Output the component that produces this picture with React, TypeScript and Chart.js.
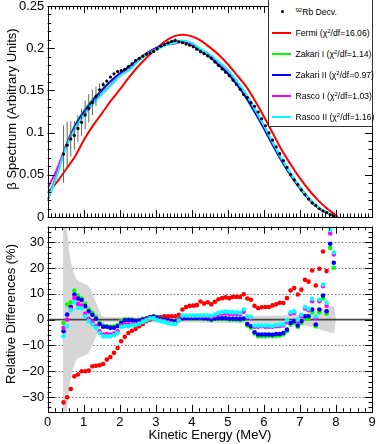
import React, { useEffect, useRef } from 'react';
import { Chart, registerables } from 'chart.js';
Chart.register(...registerables);

const FONT = "'Liberation Sans', Arial, Helvetica, sans-serif";

// ---- measured data (energy bins, MeV) ----
const ENERGY = [0.44,0.54,0.64,0.74,0.84,0.94,1.04,1.14,1.24,1.34,1.44,1.54,1.64,1.74,1.84,1.94,2.04,2.14,2.24,2.34,2.44,2.54,2.64,2.74,2.84,2.94,3.04,3.14,3.24,3.34,3.44,3.54,3.64,3.74,3.84,3.94,4.04,4.14,4.24,4.34,4.44,4.54,4.64,4.74,4.84,4.94,5.04,5.14,5.24,5.34,5.44,5.54,5.64,5.74,5.84,5.94,6.04,6.14,6.24,6.34,6.44,6.54,6.64,6.74,6.84,6.94,7.04,7.14,7.24,7.34,7.44,7.54,7.64,7.74,7.84,7.94];

const SPECTRUM = [0.0745,0.085,0.0925,0.0966,0.1049,0.1122,0.1209,0.1287,0.1358,0.1429,0.1507,0.157,0.1611,0.1659,0.1696,0.1723,0.1736,0.175,0.1782,0.1814,0.1852,0.188,0.1905,0.1929,0.1944,0.1962,0.1991,0.2023,0.2043,0.2062,0.208,0.2092,0.2075,0.2065,0.2051,0.2036,0.2017,0.1989,0.1959,0.1935,0.1909,0.1882,0.1837,0.1795,0.1755,0.1715,0.1674,0.1622,0.157,0.1513,0.145,0.1415,0.1355,0.1311,0.1244,0.1163,0.1081,0.0996,0.0911,0.083,0.075,0.0668,0.0588,0.0504,0.0439,0.0385,0.0321,0.0264,0.0212,0.0167,0.0137,0.0098,0.0071,0.0052,0.0026,0.001];

const SPECTRUM_ERR = [0.034,0.028,0.021,0.017,0.016,0.016,0.017,0.017,0.015,0.0115,0.0075,0.003,0.0015,0.0014,0.0014,0.0014,0.0014,0.0014,0.0014,0.0014,0.0014,0.0014,0.0014,0.0014,0.0014,0.0014,0.0014,0.0014,0.0014,0.0014,0.0014,0.0014,0.0014,0.0014,0.0014,0.0014,0.0014,0.0014,0.0014,0.0014,0.0014,0.0014,0.0014,0.0014,0.0014,0.0014,0.0014,0.0014,0.0014,0.0014,0.0014,0.0014,0.0014,0.0014,0.0014,0.0014,0.0014,0.0014,0.0014,0.0012,0.0012,0.0012,0.0012,0.0012,0.0012,0.0012,0.001,0.001,0.001,0.001,0.001,0.001,0.001,0.001,0.001,0.001];

// ---- fitted spectra ----
const CURVE_E = [0,0.25,0.5,0.75,1,1.25,1.5,1.75,2,2.25,2.5,2.75,3,3.25,3.5,3.75,4,4.25,4.5,4.75,5,5.25,5.5,5.75,6,6.25,6.5,6.75,7,7.25,7.5,7.75,8,8.05];
const FERMI = [0.029,0.041,0.056,0.071,0.091,0.108,0.1225,0.1375,0.151,0.165,0.178,0.189,0.199,0.208,0.214,0.2158,0.214,0.209,0.201,0.192,0.181,0.168,0.155,0.138,0.119,0.099,0.079,0.062,0.046,0.032,0.020,0.010,0.002,0];
const ZAKARI_I = [0.021,0.050,0.084,0.1085,0.1255,0.1392,0.1508,0.1607,0.1697,0.1778,0.1859,0.1938,0.1998,0.2043,0.2078,0.2075,0.2035,0.1966,0.1895,0.1795,0.1696,0.1567,0.1417,0.1237,0.1047,0.0848,0.0658,0.0489,0.0339,0.0209,0.0109,0.0049,0,null];
const ZAKARI_II = [0.020,0.050,0.083,0.107,0.124,0.138,0.150,0.161,0.170,0.178,0.186,0.194,0.200,0.2045,0.208,0.2078,0.204,0.197,0.190,0.180,0.170,0.157,0.142,0.124,0.105,0.085,0.066,0.049,0.034,0.021,0.011,0.005,0,null];
const RASCO_I = [0.034,0.056,0.083,0.1048,0.1211,0.1344,0.1462,0.1565,0.1678,0.1748,0.1847,0.1935,0.1990,0.2041,0.2052,0.2082,0.2050,0.1978,0.1915,0.1828,0.1735,0.1603,0.1453,0.1272,0.1080,0.0876,0.0681,0.0508,0.0353,0.0219,0.0115,0.0051,0,null];
const RASCO_II = [0.020,0.049,0.081,0.1038,0.1203,0.1337,0.1454,0.1557,0.1671,0.1739,0.1838,0.1926,0.198,0.2031,0.2062,0.2092,0.2062,0.199,0.1925,0.1838,0.1744,0.161,0.146,0.1278,0.1086,0.088,0.0685,0.051,0.0355,0.022,0.0116,0.0052,0,null];

// ---- relative differences (%) ----
const RES_FERMI = [-32.1,-30.1,-26.9,-22.0,-21.3,-20.0,-20.0,-19.8,-18.1,-17.9,-17.7,-17.2,-15.5,-14.5,-12.9,-11.0,-8.4,-6.7,-5.2,-4.3,-3.6,-2.6,-1.7,-0.6,0.0,0.6,0.6,1.0,1.3,1.3,1.3,1.3,1.9,3.9,4.9,5.3,5.4,5.6,7.0,6.2,6.7,5.9,6.9,7.9,8.3,8.6,8.3,8.8,8.8,8.8,9.8,8.2,7.7,5.3,4.4,4.8,4.9,4.9,5.5,5.9,6.5,6.4,8.3,11.3,12.2,9.7,11.6,15.4,14.7,19.0,13.2,19.7,26.4,18.8];
const RES_ZAKARI_I = [-1.3,5.8,6.7,11.3,9.3,8.2,6.1,3.9,2.6,1.0,-1.3,-2.3,-2.6,-2.8,-2.6,-2.1,-0.6,0,0,-0.1,-0.4,-0.3,0.3,0.5,1.0,1.3,0.9,0.3,0,-0.3,-0.6,-0.8,0,0.6,0.6,0.5,0.4,0.4,0.5,0.3,0.2,-0.2,0.2,0.2,0.2,0.2,0,0,0,-0.3,0.1,-2.3,-3.2,-5.4,-6.5,-6.5,-6.5,-6.3,-6.5,-6.3,-6.2,-5.8,-4.5,-1.9,-1.3,-2.8,-1.3,0.6,0.3,2.8,-2.6,2.8,8.2,2.3,27.8,20.1];
const RES_ZAKARI_II = [-4.5,2.0,4.9,9.7,8.2,7.6,5.2,3.2,1.9,0.3,-1.7,-2.8,-2.8,-3.2,-3.2,-2.6,-1.3,-0.3,-0.3,-0.3,-0.6,-0.4,0,0.4,0.9,1.2,0.8,0.1,0,-0.3,-0.6,-0.8,0,0.5,0.6,0.6,0.6,0.6,0.7,0.5,0.4,0.1,0.4,0.5,0.5,0.5,0.3,0.3,0.3,0.2,0.4,-1.7,-2.6,-4.9,-5.8,-5.8,-5.8,-5.8,-5.9,-5.6,-5.6,-5.2,-3.9,-1.3,-0.6,-2.3,-0.6,1.3,1.3,3.9,-1.9,3.9,9.3,3.2,29.4,22.0];
const RES_RASCO_I = [-3.2,0.0,4.2,8.4,6.1,5.4,2.2,0.3,-1.0,-2.6,-4.5,-5.8,-5.6,-5.8,-5.4,-4.5,-2.3,-1.9,-1.9,-1.9,-1.7,-1.3,-0.6,0,0.5,0.6,0,-0.4,-0.6,-1.0,-1.3,-1.6,-0.3,1.3,1.4,1.3,1.3,1.3,1.3,1.3,1.3,1.0,1.5,2.0,2.3,2.4,2.2,2.2,2.2,2.0,3.0,1.0,0.6,-2.8,-2.8,-2.6,-2.8,-2.8,-2.8,-2.6,-2.5,-2.3,-1.0,2.3,2.6,-0.6,1.3,4.3,3.6,7.1,0.6,7.1,12.9,5.4,33.4,25.2];
const RES_RASCO_II = [-6.5,-2.6,3.6,6.7,4.5,4.4,1.3,-0.6,-1.9,-3.2,-5.2,-6.5,-6.5,-6.5,-6.0,-5.2,-2.8,-2.6,-2.6,-2.3,-2.1,-1.6,-0.9,-0.3,0.4,0.5,-0.3,-0.6,-0.9,-1.3,-1.6,-1.7,-0.4,1.6,1.6,1.6,1.6,1.6,1.6,1.7,1.7,1.5,2.0,2.6,2.9,3.1,2.9,2.8,2.8,2.6,3.9,1.3,1.0,-2.3,-2.3,-2.3,-2.3,-2.3,-2.5,-2.1,-2.0,-1.9,-0.3,2.8,3.2,0,1.9,4.9,4.1,8.0,1.3,7.8,13.6,6.5,34.7,26.0];

// ---- data uncertainty band (half width, %) ----
const BAND_E = [0.42,0.46,0.5,0.55,0.6,0.65,0.7,0.8,0.9,1.0,1.1,1.2,1.3,1.4,1.5,1.6,2.0,2.5,3.0,3.5,4.0,4.5,5.0,5.5,6.0,6.5,6.9,7.2,7.4,7.6,7.8,7.95,8.0];
const BAND_HALF = [48,44,38,33,26,22,19,15.5,14.5,14,13.5,11.5,8,4.5,1.5,0.9,0.9,1.0,1.0,1.0,1.1,1.2,1.3,1.4,1.5,1.6,1.8,2.5,3.2,4.0,4.8,5.3,0];

// ---- axes ----
const X_TICKS = [0,1,2,3,4,5,6,7,8,9];
const TOP_Y_TICKS = [0,0.05,0.1,0.15,0.2,0.25];
const TOP_Y_LABELS = ['0','0.05','0.1','0.15','0.2','0.25'];
const BOT_Y_TICKS = [-30,-20,-10,0,10,20,30];
const BOT_Y_LABELS = ['\u221230','\u221220','\u221210','0','10','20','30'];
const BOT_GRID = [-30,-20,-10,10,20,30];

const MODEL_NAMES = ['Fermi','Zakari I','Zakari II','Rasco I','Rasco II'];
const MODEL_CHI2 = ['16.06','1.14','0.97','1.03','1.16'];
const MODEL_COLORS = ['#ff0000','#00ff00','#0000ff','#ff00ff','#00ffff'];
const MODEL_CURVES = [FERMI, ZAKARI_I, ZAKARI_II, RASCO_I, RASCO_II];
const MODEL_RES = [RES_FERMI, RES_ZAKARI_I, RES_ZAKARI_II, RES_RASCO_I, RES_RASCO_II];

function range(min: number, max: number, step: number) {
  const out: number[] = [];
  const n = Math.round((max - min) / step);
  for (let i = 0; i <= n; i++) out.push(min + i * step);
  return out;
}

const framePlugin = {
  id: 'rootFrame',
  beforeDatasetsDraw(chart: any, _a: any, opts: any) {
    if (!opts.grid) return;
    const { ctx, chartArea: ca, scales } = chart;
    ctx.save();
    ctx.strokeStyle = '#666';
    ctx.lineWidth = 1;
    ctx.setLineDash([1.5, 2]);
    opts.grid.forEach((v: number) => {
      const y = Math.round(scales.y.getPixelForValue(v)) + 0.5;
      ctx.beginPath();
      ctx.moveTo(ca.left, y);
      ctx.lineTo(ca.right, y);
      ctx.stroke();
    });
    ctx.restore();
  },
  beforeDatasetDraw(chart: any, args: any, opts: any) {
    if (opts.errIndex !== args.index) return;
    const { ctx, scales } = chart;
    ctx.save();
    ctx.strokeStyle = '#555';
    ctx.lineWidth = 0.9;
    ENERGY.forEach((e, i) => {
      const x = scales.x.getPixelForValue(e);
      const y1 = scales.y.getPixelForValue(SPECTRUM[i] - SPECTRUM_ERR[i]);
      const y2 = scales.y.getPixelForValue(SPECTRUM[i] + SPECTRUM_ERR[i]);
      ctx.beginPath();
      ctx.moveTo(x, y1);
      ctx.lineTo(x, y2);
      ctx.stroke();
    });
    ctx.restore();
  },
  afterDatasetDraw(chart: any, args: any, opts: any) {
    if (opts.zeroAfter !== args.index) return;
    const { ctx, chartArea: ca, scales } = chart;
    const y = scales.y.getPixelForValue(0);
    ctx.save();
    ctx.strokeStyle = '#444';
    ctx.lineWidth = 1.6;
    ctx.beginPath();
    ctx.moveTo(ca.left, y);
    ctx.lineTo(ca.right, y);
    ctx.stroke();
    ctx.restore();
  },
  afterDraw(chart: any, _a: any, opts: any) {
    const { ctx, chartArea: ca, scales } = chart;
    const sx = scales.x, sy = scales.y;
    ctx.save();
    ctx.strokeStyle = '#000';
    ctx.lineWidth = 1;
    ctx.strokeRect(Math.round(ca.left) + 0.5, Math.round(ca.top) + 0.5, Math.round(ca.right - ca.left), Math.round(ca.bottom - ca.top));
    const MAJ = 7, MIN = 3.5;
    const xt = (v: number, len: number) => {
      const x = Math.round(sx.getPixelForValue(v)) + 0.5;
      ctx.beginPath();
      ctx.moveTo(x, ca.bottom); ctx.lineTo(x, ca.bottom - len);
      ctx.moveTo(x, ca.top); ctx.lineTo(x, ca.top + len);
      ctx.stroke();
    };
    const yt = (v: number, len: number) => {
      const y = Math.round(sy.getPixelForValue(v)) + 0.5;
      ctx.beginPath();
      ctx.moveTo(ca.left, y); ctx.lineTo(ca.left + len, y);
      ctx.moveTo(ca.right, y); ctx.lineTo(ca.right - len, y);
      ctx.stroke();
    };
    range(0, 9, opts.xMinor).forEach((v) => xt(v, MIN));
    range(0, 9, 1).forEach((v) => xt(v, MAJ));
    range(opts.yMinorFrom, opts.yMinorTo, opts.yMinor).forEach((v) => yt(v, MIN));
    range(opts.yMajorFrom, opts.yMajorTo, opts.yMajor).forEach((v) => yt(v, MAJ));
    ctx.restore();
  },
};

const W = 377, H = 444;
const TOP_BOTTOM = 217;      // px of y=0 in top panel
const BOT_TOP = 226.7;       // top of residual panel
const BOT_BOTTOM = 411.7;    // bottom of residual panel
const LEFT = 47.7;
const RIGHT_PAD = 5;

function tickFont() {
  return { family: FONT, size: 13 };
}

export default function App() {
  const topRef = useRef<HTMLCanvasElement>(null);
  const botRef = useRef<HTMLCanvasElement>(null);

  useEffect(() => {
    const curveSets = MODEL_CURVES.map((vals, m) => ({
      label: MODEL_NAMES[m],
      data: CURVE_E.map((e, i) => ({ x: e, y: vals[i] })),
      borderColor: MODEL_COLORS[m],
      borderWidth: 2,
      pointRadius: 0,
      showLine: true,
      fill: false,
      cubicInterpolationMode: 'monotone',
      spanGaps: false,
      order: 5 - m,
    }));
    const top = new Chart(topRef.current!, {
      type: 'line',
      data: {
        datasets: [
          {
            label: 'data',
            data: ENERGY.map((e, i) => ({ x: e, y: SPECTRUM[i] })),
            showLine: false,
            pointRadius: 1.6,
            pointBackgroundColor: '#000',
            pointBorderWidth: 0,
            borderColor: '#000',
            order: 0,
          },
          ...curveSets,
        ] as any,
      },
      options: {
        animation: false,
        responsive: false,
        devicePixelRatio: 1,
        events: [],
        layout: { padding: { left: 0, right: RIGHT_PAD, top: 6, bottom: H - TOP_BOTTOM } },
        plugins: {
          legend: { display: false },
          tooltip: { enabled: false },
          rootFrame: { errIndex: 0, xMinor: 0.1, yMinor: 0.01, yMinorFrom: 0, yMinorTo: 0.25, yMajor: 0.05, yMajorFrom: 0, yMajorTo: 0.25 },
        } as any,
        scales: {
          x: { type: 'linear', min: 0, max: 9, display: false },
          y: {
            type: 'linear', min: 0, max: 0.25,
            afterFit: (s: any) => { s.width = LEFT; s.paddingTop = 0; s.paddingBottom = 0; },
            afterBuildTicks: (s: any) => { s.ticks = TOP_Y_TICKS.map((v) => ({ value: v })); },
            ticks: { callback: (_v: any, i: number) => TOP_Y_LABELS[i], font: tickFont(), color: '#000', padding: 3.5 },
            grid: { display: false, drawTicks: false },
            border: { display: false },
          },
        },
      } as any,
      plugins: [framePlugin],
    });

    const resSets = MODEL_RES.map((vals, m) => ({
      label: MODEL_NAMES[m],
      data: vals.map((v, i) => ({ x: ENERGY[i], y: v })),
      showLine: false,
      pointRadius: 2.3,
      pointBackgroundColor: MODEL_COLORS[m],
      pointBorderWidth: 0,
      borderColor: MODEL_COLORS[m],
      order: 5 - m,
    }));
    const bot = new Chart(botRef.current!, {
      type: 'line',
      data: {
        datasets: [
          {
            label: 'band+',
            data: BAND_E.map((e, i) => ({ x: e, y: BAND_HALF[i] })),
            borderColor: 'transparent', borderWidth: 0, pointRadius: 0, showLine: true, fill: false, order: 11,
          },
          {
            label: 'band-',
            data: BAND_E.map((e, i) => ({ x: e, y: -BAND_HALF[i] })),
            borderColor: 'transparent', borderWidth: 0, pointRadius: 0, showLine: true,
            fill: '-1', backgroundColor: '#d6d6d6', order: 10,
          },
          ...resSets,
        ] as any,
      },
      options: {
        animation: false,
        responsive: false,
        devicePixelRatio: 1,
        events: [],
        layout: { padding: { left: 0, right: RIGHT_PAD, top: BOT_TOP, bottom: 0 } },
        plugins: {
          legend: { display: false },
          tooltip: { enabled: false },
          filler: { propagate: false },
          rootFrame: { grid: BOT_GRID, zeroAfter: 1, xMinor: 0.2, yMinor: 2, yMinorFrom: -34, yMinorTo: 36, yMajor: 10, yMajorFrom: -30, yMajorTo: 30 },
        } as any,
        scales: {
          x: {
            type: 'linear', min: 0, max: 9,
            afterFit: (s: any) => { s.height = H - BOT_BOTTOM; s.paddingLeft = 0; s.paddingRight = 0; },
            afterBuildTicks: (s: any) => { s.ticks = X_TICKS.map((v) => ({ value: v })); },
            ticks: { font: tickFont(), color: '#000', padding: 3, maxRotation: 0, autoSkip: false },
            grid: { display: false, drawTicks: false },
            border: { display: false },
          },
          y: {
            type: 'linear', min: -35.7, max: 36,
            afterFit: (s: any) => { s.width = LEFT; s.paddingTop = 0; s.paddingBottom = 0; },
            afterBuildTicks: (s: any) => { s.ticks = BOT_Y_TICKS.map((v) => ({ value: v })); },
            ticks: { callback: (_v: any, i: number) => BOT_Y_LABELS[i], font: tickFont(), color: '#000', padding: 3.5 },
            grid: { display: false, drawTicks: false },
            border: { display: false },
          },
        },
      } as any,
      plugins: [framePlugin],
    });
    return () => { top.destroy(); bot.destroy(); };
  }, []);

  const rot = (cx: number, cy: number): React.CSSProperties => ({
    position: 'absolute', left: cx, top: cy, transform: 'translate(-50%,-50%) rotate(-90deg)',
    whiteSpace: 'nowrap', font: `13px ${FONT}`, lineHeight: '1', color: '#000',
  });
  const rowY = [10.7, 31.7, 52.5, 73.5, 94.5, 115.7];
  const legText: React.CSSProperties = { position: 'absolute', left: 27, font: `8.6px ${FONT}`, lineHeight: '1', whiteSpace: 'nowrap', color: '#000', transform: 'translateY(-50%)' };
  const sup: React.CSSProperties = { fontSize: '6px', verticalAlign: '3px', lineHeight: '0' };

  return (
    <div style={{ position: 'fixed', left: 0, top: 0, width: W, height: H, background: '#fff', overflow: 'hidden' }}>
      <canvas ref={topRef} width={W} height={H} style={{ position: 'absolute', left: 0, top: 0 }} />
      <canvas ref={botRef} width={W} height={H} style={{ position: 'absolute', left: 0, top: 0 }} />
      <div style={rot(10.5, 108.5)}>β Spectrum (Arbitrary Units)</div>
      <div style={rot(10, 314)}>Relative Differences (%)</div>
      <div style={{ position: 'absolute', left: 210, top: 433.5, transform: 'translate(-50%,-50%)', whiteSpace: 'nowrap', font: `13px ${FONT}`, lineHeight: '1' }}>Kinetic Energy (MeV)</div>
      <div style={{ position: 'absolute', left: 267.5, top: -1, width: 105, height: 127.5, border: '1px solid #333', background: '#fff', boxSizing: 'border-box' }}>
        <div style={{ position: 'absolute', left: 12.5, top: rowY[0] + 1 - 1.6, width: 3.2, height: 3.2, borderRadius: '50%', background: '#000' }} />
        <div style={{ ...legText, top: rowY[0] + 1 }}><span style={sup}>92</span>Rb Decv.</div>
        {MODEL_NAMES.map((name, m) => (
          <React.Fragment key={name}>
            <div style={{ position: 'absolute', left: 3.5, top: rowY[m + 1] + 1 - 1, width: 19, height: 2, background: MODEL_COLORS[m] }} />
            <div style={{ ...legText, top: rowY[m + 1] + 1 }}>{name} (χ<span style={sup}>2</span>/df={MODEL_CHI2[m]})</div>
          </React.Fragment>
        ))}
      </div>
    </div>
  );
}
